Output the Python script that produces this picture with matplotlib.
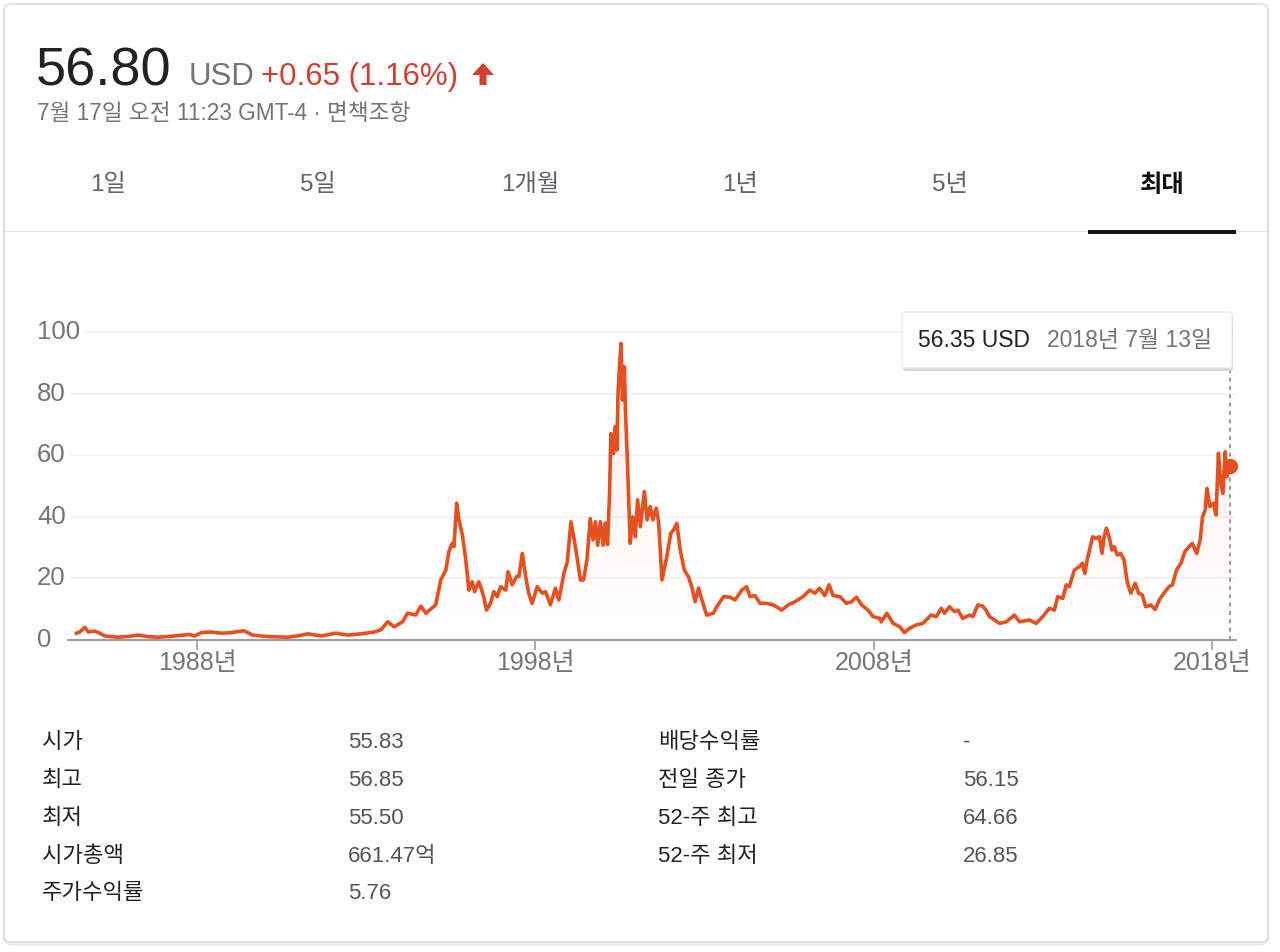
import numpy as np
import matplotlib
matplotlib.use("Agg")
import matplotlib.pyplot as plt
from matplotlib.patches import FancyBboxPatch, Polygon, Rectangle

plt.rcParams['font.family'] = ['Liberation Sans', 'Noto Sans CJK KR']

# price history (year, USD)
years = [1984.43, 1984.53, 1984.68, 1984.78, 1984.97, 1985.12, 1985.27, 1985.66, 1986.0, 1986.25,
         1986.55, 1986.84, 1987.33, 1987.77, 1987.92, 1988.12, 1988.41, 1988.71, 1989.0, 1989.38,
         1989.64, 1990.09, 1990.68, 1991.0, 1991.27, 1991.66, 1992.1, 1992.45, 1992.84, 1993.23,
         1993.43, 1993.63, 1993.82, 1994.07, 1994.22, 1994.46, 1994.61, 1994.76, 1995.05, 1995.2,
         1995.35, 1995.44, 1995.54, 1995.59, 1995.67, 1995.74, 1995.84, 1995.94, 1996.03, 1996.13,
         1996.2, 1996.33, 1996.47, 1996.55, 1996.67, 1996.77, 1996.87, 1996.97, 1997.12, 1997.19,
         1997.31, 1997.44, 1997.51, 1997.61, 1997.71, 1997.8, 1997.9, 1998.05, 1998.2, 1998.3,
         1998.44, 1998.59, 1998.69, 1998.84, 1998.94, 1999.05, 1999.18, 1999.33, 1999.42, 1999.52,
         1999.62, 1999.7, 1999.77, 1999.84, 1999.92, 2000.0, 2000.06, 2000.13, 2000.19, 2000.23,
         2000.31, 2000.36, 2000.41, 2000.44, 2000.48, 2000.53, 2000.57, 2000.63, 2000.66, 2000.72,
         2000.8, 2000.88, 2000.95, 2001.02, 2001.1, 2001.22, 2001.3, 2001.39, 2001.47, 2001.57,
         2001.64, 2001.74, 2001.88, 2002.0, 2002.08, 2002.18, 2002.28, 2002.4, 2002.52, 2002.62,
         2002.72, 2002.82, 2002.92, 2003.06, 2003.26, 2003.36, 2003.56, 2003.75, 2003.9, 2004.1,
         2004.24, 2004.34, 2004.49, 2004.64, 2004.83, 2005.03, 2005.28, 2005.47, 2005.67, 2005.91,
         2006.11, 2006.26, 2006.4, 2006.55, 2006.68, 2006.8, 2007.0, 2007.19, 2007.34, 2007.49,
         2007.64, 2007.83, 2007.98, 2008.18, 2008.22, 2008.39, 2008.57, 2008.77, 2008.91, 2009.06,
         2009.26, 2009.45, 2009.7, 2009.85, 2010.0, 2010.09, 2010.24, 2010.39, 2010.49, 2010.63,
         2010.83, 2010.93, 2011.08, 2011.22, 2011.32, 2011.42, 2011.57, 2011.72, 2011.92, 2012.16,
         2012.31, 2012.6, 2012.8, 2013.0, 2013.19, 2013.34, 2013.44, 2013.59, 2013.69, 2013.78,
         2013.93, 2014.08, 2014.17, 2014.24, 2014.32, 2014.47, 2014.57, 2014.67, 2014.75, 2014.81,
         2014.88, 2014.96, 2015.04, 2015.11, 2015.2, 2015.3, 2015.4, 2015.5, 2015.6, 2015.73,
         2015.83, 2015.94, 2016.04, 2016.19, 2016.32, 2016.44, 2016.58, 2016.73, 2016.83, 2016.95,
         2017.08, 2017.2, 2017.32, 2017.42, 2017.55, 2017.65, 2017.72, 2017.8, 2017.85, 2017.94,
         2018.04, 2018.12, 2018.19, 2018.26, 2018.32, 2018.39, 2018.44, 2018.49, 2018.53]
prices = [2.2, 2.6, 4.1, 2.6, 2.9, 2.2, 1.3, 0.9, 1.2, 1.6,
          1.1, 0.9, 1.3, 1.8, 1.3, 2.4, 2.6, 2.2, 2.4, 3.0,
          1.6, 1.1, 0.9, 1.4, 2.0, 1.3, 2.2, 1.6, 2.0, 2.6,
          3.3, 5.9, 4.3, 5.9, 8.7, 8.1, 11.0, 8.7, 11.4, 19.5,
          22.7, 28.7, 31.4, 30.3, 44.4, 39.0, 34.1, 26.0, 16.2, 18.9,
          15.7, 18.9, 14.1, 9.7, 11.9, 15.7, 14.1, 17.3, 16.2, 22.2,
          17.9, 20.6, 20.6, 28.1, 20.6, 15.2, 11.9, 17.3, 15.2, 15.7,
          11.4, 16.8, 13.0, 21.6, 25.4, 38.4, 30.3, 19.5, 19.5, 25.9,
          39.4, 32.5, 38.4, 30.8, 38.4, 30.8, 38.0, 31.0, 47.6, 67.0,
          60.6, 69.3, 61.7, 80.1, 87.7, 96.3, 77.9, 88.7, 74.7, 57.4,
          31.4, 40.0, 33.5, 45.5, 36.8, 48.2, 39.0, 43.3, 39.0, 42.8,
          38.4, 19.5, 27.0, 34.6, 35.7, 37.9, 29.2, 22.7, 20.6, 17.3,
          12.4, 16.9, 13.0, 8.1, 8.7, 10.8, 14.1, 13.9, 13.0, 16.2,
          17.3, 14.1, 14.4, 11.9, 11.9, 11.4, 9.7, 11.4, 12.4, 14.1,
          16.2, 15.2, 16.8, 14.4, 17.9, 14.4, 14.1, 11.9, 12.4, 13.9,
          11.4, 9.7, 7.6, 7.0, 5.9, 8.7, 5.4, 4.3, 2.4, 3.8,
          4.9, 5.4, 8.1, 7.6, 10.3, 8.7, 10.8, 9.2, 9.7, 7.0,
          8.1, 7.6, 11.4, 11.0, 9.7, 7.6, 6.5, 5.4, 5.9, 8.1,
          5.9, 6.5, 5.4, 7.6, 10.3, 9.7, 14.1, 13.5, 17.9, 17.3,
          22.7, 23.8, 24.9, 21.6, 26.5, 33.5, 33.0, 33.5, 28.1, 33.5,
          36.3, 33.5, 29.2, 30.3, 27.6, 28.1, 26.0, 18.4, 15.2, 18.4,
          15.2, 14.6, 10.8, 11.4, 9.9, 13.0, 15.2, 17.3, 17.9, 22.7,
          24.9, 28.7, 30.3, 31.4, 28.1, 32.5, 40.0, 42.2, 49.2, 43.3,
          44.4, 40.6, 60.6, 50.9, 47.6, 61.1, 53.0, 57.4, 56.35]

x_ticks = [1988, 1998, 2008, 2018]
y_ticks = [0, 20, 40, 60, 80, 100]

tabs = ['1일', '5일', '1개월', '1년', '5년', '최대']
stat_left = ['시가', '최고', '최저', '시가총액', '주가수익률']
stat_left_vals = ['55.83', '56.85', '55.50', '661.47억', '5.76']
stat_right = ['배당수익률', '전일 종가', '52-주 최고', '52-주 최저']
stat_right_vals = ['-', '56.15', '64.66', '26.85']

W, H = 1280, 952
line_color = '#e6501e'
gray = '#70757a'

fig = plt.figure(figsize=(W / 100, H / 100), dpi=100)
fig.patch.set_facecolor('white')


def fx(px):
    return px / W


def fy(py):
    return 1 - py / H


def ptext(x, y, s, **kw):
    return fig.text(fx(x), fy(y), s, **kw)


# card outline
fig.add_artist(FancyBboxPatch((fx(5), fy(944)), fx(1262), 938 / H,
                              boxstyle='round,pad=0,rounding_size=0.006',
                              transform=fig.transFigure, fc='none', ec='#ececec', lw=2.5, zorder=0))
fig.add_artist(FancyBboxPatch((fx(4), fy(942)), fx(1264), 938 / H,
                              boxstyle='round,pad=0,rounding_size=0.006',
                              transform=fig.transFigure, fc='white', ec='#dcdcdc', lw=1.2, zorder=0))

# header
ptext(36, 86, '56.80', fontsize=39, color='#222222')
ptext(189, 85, 'USD', fontsize=22.5, color=gray)
ptext(261, 85, '+0.65 (1.16%)', fontsize=22.5, color='#d23f31')
fig.add_artist(Polygon([(fx(472), fy(75)), (fx(483), fy(63)), (fx(494), fy(75)), (fx(486.5), fy(75)),
                        (fx(486.5), fy(85)), (fx(479.5), fy(85)), (fx(479.5), fy(75))],
                       closed=True, transform=fig.transFigure, fc='#d23f31', ec='none'))
ptext(37, 120, '7월 17일 오전 11:23 GMT-4 · 면책조항', fontsize=16.3, color=gray)

# range tabs
tab_x = [108, 318, 530, 740, 950, 1162]
for t, x in zip(tabs, tab_x):
    if t == '최대':
        ptext(x, 185, t, fontsize=17.5, color='#111111', ha='center', va='center', fontweight='bold')
    else:
        ptext(x, 185, t, fontsize=17.5, color='#5f6368', ha='center', va='center')
fig.add_artist(Rectangle((fx(4), fy(232)), fx(1264), 1.5 / H, transform=fig.transFigure,
                         fc='#e2e2e2', ec='none'))
fig.add_artist(Rectangle((fx(1088), fy(234)), fx(148), 4.5 / H, transform=fig.transFigure,
                         fc='#111111', ec='none'))

# chart
ymax = 104
ax = fig.add_axes([fx(68), fy(640), fx(1236 - 68), (ymax * 3.08) / H])
ax.set_facecolor('none')

fill = ax.fill_between(years, prices, 0, color='none', lw=0)
grad = np.zeros((100, 1, 4))
grad[..., :3] = matplotlib.colors.to_rgb(line_color)
grad[..., 3] = np.linspace(0.0, 0.11, 100)[:, None]
im = ax.imshow(grad, extent=[years[0], years[-1], 0, 100], aspect='auto', origin='lower', zorder=1)
im.set_clip_path(fill.get_paths()[0], transform=ax.transData)

ax.plot(years, prices, color=line_color, lw=2.6, solid_joinstyle='round', zorder=3)
ax.plot(years[-1], prices[-1], 'o', color=line_color, ms=10, zorder=4, clip_on=False)

tip_val = (640 - 368) / 3.08
ax.plot([years[-1], years[-1]], [0, tip_val], color='#8a8a8a', lw=1.2, ls=(0, (2.5, 2.5)), zorder=2)

ax.set_xlim(1984.18, 2018.71)
ax.set_ylim(0, ymax)

for v in y_ticks[1:]:
    ax.axhline(v, color='#f1f1f1', lw=1.2, zorder=0)
for v in y_ticks:
    ax.text(-31 / 1168, v, str(v), transform=ax.get_yaxis_transform(), ha='left', va='center',
            fontsize=18.5, color='#757575',
            bbox=dict(fc='white', ec='none', pad=3))
ax.set_yticks([])

ax.set_xticks(x_ticks)
ax.set_xticklabels([f'{y}년' for y in x_ticks], fontsize=18, color='#757575')
ax.tick_params(axis='x', length=7, width=1.2, color='#9e9e9e', pad=1)
for s in ['top', 'left', 'right']:
    ax.spines[s].set_visible(False)
ax.spines['bottom'].set_color('#9e9e9e')
ax.spines['bottom'].set_linewidth(1.5)

# tooltip
fig.add_artist(FancyBboxPatch((fx(903), fy(371)), fx(330), 57 / H,
                              boxstyle='round,pad=0,rounding_size=0.002',
                              transform=fig.transFigure, fc='#d6d6d6', ec='none', zorder=5))
fig.add_artist(FancyBboxPatch((fx(902), fy(368)), fx(330), 56 / H,
                              boxstyle='round,pad=0,rounding_size=0.002',
                              transform=fig.transFigure, fc='white', ec='#e6e6e6', lw=0.8, zorder=6))
ptext(918, 347, '56.35 USD', fontsize=16.5, color='#222222', zorder=7)
ptext(1047, 347, '2018년 7월 13일', fontsize=16.5, color=gray, zorder=7)

# key stats
row_y = [748, 786, 824, 862, 899]
for lab, val, y in zip(stat_left, stat_left_vals, row_y):
    ptext(42, y, lab, fontsize=16, color='#222222')
    ptext(348, y, val, fontsize=16, color='#545454')
for lab, val, y in zip(stat_right, stat_right_vals, row_y):
    ptext(658, y, lab, fontsize=16, color='#222222')
    ptext(963, y, val, fontsize=16, color='#545454')

fig.savefig('out.png', dpi=100, facecolor='white')
